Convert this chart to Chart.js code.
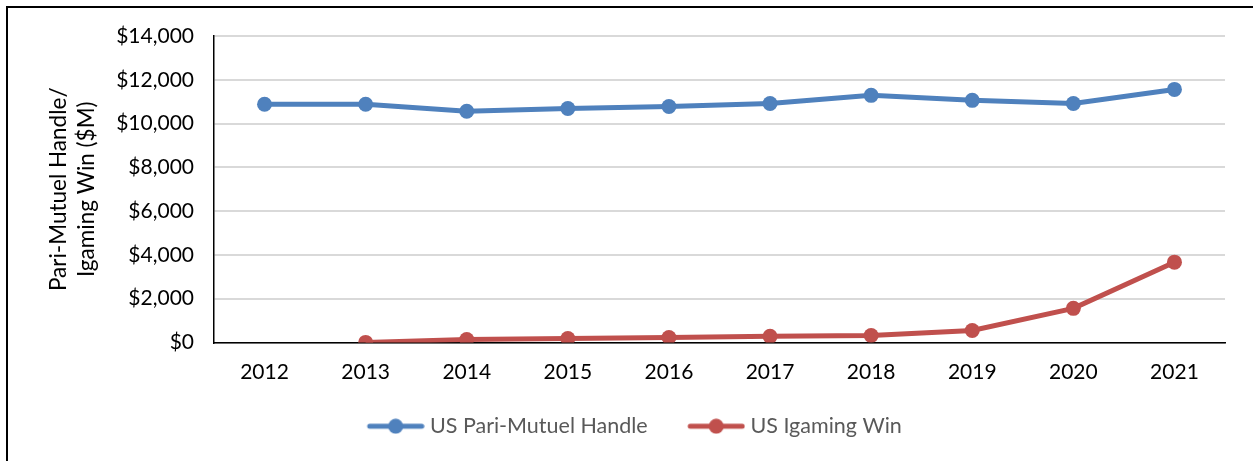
<!DOCTYPE html>
<html>
<head>
<meta charset="utf-8">
<script src="https://cdn.jsdelivr.net/npm/chart.js@4/dist/chart.umd.min.js"></script>
<style>
  html, body { margin: 0; padding: 0; background: #fff; }
  #frame {
    position: absolute; left: 6px; top: 6px;
    width: 1245px; height: 453px;
    border-left: 2px solid #000; border-top: 2px solid #000;
  }
</style>
</head>
<body>
<div id="frame"><canvas id="chart" width="1245" height="453"></canvas></div>
<script>
// values ($M)
const years = ['2012', '2013', '2014', '2015', '2016', '2017', '2018', '2019', '2020', '2021'];
const pariMutuelHandle = [10880, 10880, 10560, 10690, 10780, 10920, 11290, 11060, 10920, 11560];
const igamingWin = [null, 5, 140, 180, 230, 280, 320, 550, 1560, 3670];
const yTicks = [0, 2000, 4000, 6000, 8000, 10000, 12000, 14000];

const BLUE = '#4F81BD';
const RED = '#C0504D';
const FONT = 'Lato, "Open Sans", sans-serif';

// Excel style legend marker: line with a dot in the middle,
// with blank room on the left so the gap between legend items matches
function legendMarker(color) {
  const c = document.createElement('canvas');
  c.width = 77;
  c.height = 16;
  const g = c.getContext('2d');
  const x0 = 19;
  g.strokeStyle = color;
  g.lineWidth = 5;
  g.lineCap = 'round';
  g.beginPath();
  g.moveTo(x0 + 3, 8);
  g.lineTo(x0 + 55, 8);
  g.stroke();
  g.fillStyle = color;
  g.beginPath();
  g.arc(x0 + 29, 8, 7.5, 0, Math.PI * 2);
  g.fill();
  return c;
}

const ctx = document.getElementById('chart').getContext('2d');

new Chart(ctx, {
  type: 'line',
  data: {
    labels: years,
    datasets: [
      {
        label: 'US Pari-Mutuel Handle',
        data: pariMutuelHandle,
        borderColor: BLUE,
        backgroundColor: BLUE,
        borderWidth: 5,
        pointRadius: 7.5,
        pointHoverRadius: 7.5,
        pointBorderWidth: 0,
        tension: 0
      },
      {
        label: 'US Igaming Win',
        data: igamingWin,
        borderColor: RED,
        backgroundColor: RED,
        borderWidth: 5,
        pointRadius: 7.5,
        pointHoverRadius: 7.5,
        pointBorderWidth: 0,
        tension: 0
      }
    ]
  },
  options: {
    responsive: false,
    animation: false,
    layout: {
      padding: { left: 22, right: 28, top: 28, bottom: 14 }
    },
    scales: {
      x: {
        offset: true,
        grid: { display: false, drawTicks: false },
        border: { color: '#000', width: 1.5 },
        ticks: {
          color: '#000',
          font: { family: FONT, size: 21 },
          padding: 17,
          maxRotation: 0
        },
        afterFit: (scale) => { scale.height = 47; }
      },
      y: {
        min: 0,
        max: 14000,
        afterBuildTicks: (scale) => {
          scale.ticks = yTicks.map(v => ({ value: v }));
        },
        grid: { color: '#d9d9d9', lineWidth: 2, drawTicks: false },
        border: { color: '#000', width: 1.5 },
        ticks: {
          color: '#000',
          font: { family: FONT, size: 21 },
          padding: 20,
          callback: (v) => '$' + Number(v).toLocaleString('en-US')
        },
        title: {
          display: true,
          text: ['Pari-Mutuel Handle/', 'Igaming Win ($M)'],
          color: '#000',
          font: { family: FONT, size: 22.5, lineHeight: 1.25 },
          padding: { top: 15, bottom: 0 }
        },
        afterFit: (scale) => {
          scale.width = 184;
          scale.paddingTop = 0;
          scale.paddingBottom = 0;
        }
      }
    },
    plugins: {
      legend: {
        position: 'bottom',
        labels: {
          color: '#595959',
          font: { family: FONT, size: 21.5 },
          usePointStyle: true,
          pointStyleWidth: 66,
          padding: 26,
          generateLabels: (chart) => chart.data.datasets.map((ds, i) => ({
            text: ds.label,
            pointStyle: legendMarker(ds.borderColor),
            fillStyle: ds.borderColor,
            strokeStyle: ds.borderColor,
            lineWidth: 0,
            fontColor: '#595959',
            datasetIndex: i
          }))
        }
      },
      tooltip: { enabled: false }
    }
  }
});
</script>
</body>
</html>
